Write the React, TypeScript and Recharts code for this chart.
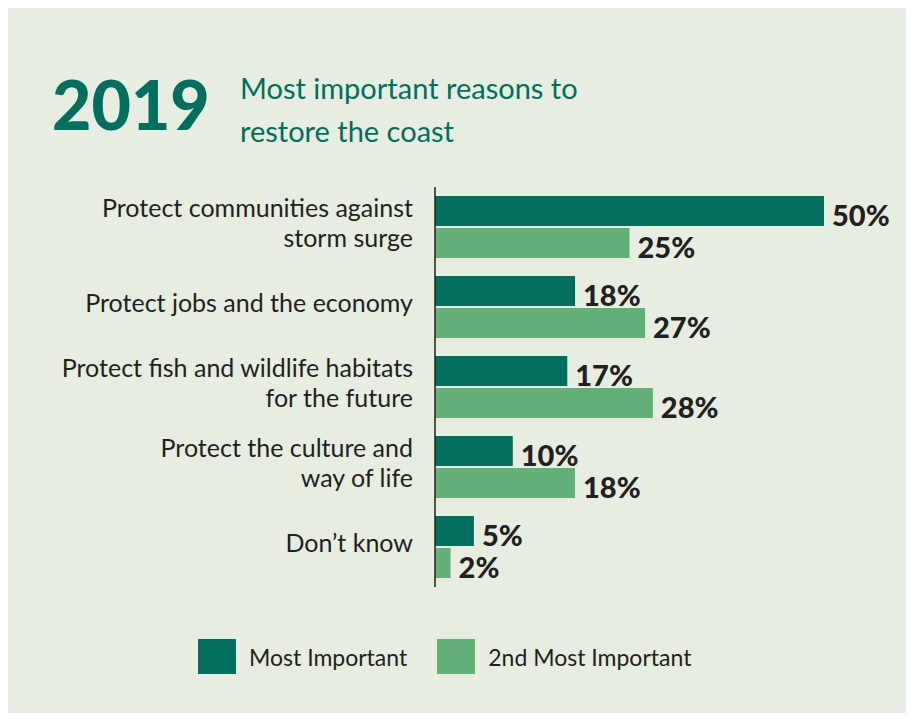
import { Bar, BarChart, LabelList, Legend, XAxis, YAxis } from 'recharts';

const categories = [
  'Protect communities against\nstorm surge',
  'Protect jobs and the economy',
  'Protect fish and wildlife habitats\nfor the future',
  'Protect the culture and\nway of life',
  'Don’t know',
];
const mostImportant = [50, 18, 17, 10, 5];
const secondMostImportant = [25, 27, 28, 18, 2];
const seriesNames = ['Most Important', '2nd Most Important'];

const DARK = '#016e5e';
const LIGHT = '#62af77';
const BG = '#e7ede0';
const INK = '#231f20';
const FONT = 'Lato, "Open Sans", sans-serif';

const chartData = categories.map((name, i) => ({
  name,
  most: mostImportant[i],
  second: secondMostImportant[i],
}));

// multi-line category label, right-aligned against the axis
const CategoryTick = ({ x, y, payload }: any) => {
  const lines = String(payload.value).split('\n');
  const lineH = 29.5;
  const first = y - ((lines.length - 1) * lineH) / 2 + 5;
  return (
    <text textAnchor="end" fontSize={25} fill={INK} fontFamily={FONT}>
      {lines.map((l, i) => (
        <tspan key={i} x={x} y={first + i * lineH}>
          {l}
        </tspan>
      ))}
    </text>
  );
};

const ValueLabel = ({ x, y, width, height, value }: any) => (
  <text
    x={x + width + 8}
    y={y + height / 2 + 3}
    dominantBaseline="central"
    fontSize={29}
    fontWeight={900}
    fill={INK}
    fontFamily={FONT}
  >
    {value}%
  </text>
);

const LegendContent = ({ payload }: any) => {
  const items = [...(payload || [])].sort(
    (a: any, b: any) => seriesNames.indexOf(a.value) - seriesNames.indexOf(b.value),
  );
  return (
    <div style={{ display: 'flex', alignItems: 'center', fontFamily: FONT }}>
      {items.map((p: any) => (
        <div key={p.value} style={{ display: 'flex', alignItems: 'center', marginRight: 30 }}>
          <span style={{ width: 38, height: 35, background: p.color, display: 'inline-block' }} />
          <span style={{ marginLeft: 13, fontSize: 23, color: INK }}>{p.value}</span>
        </div>
      ))}
    </div>
  );
};

export default function App() {
  return (
    <div style={{ position: 'relative', width: 898, height: 705, background: BG }}>
      <svg
        width={898}
        height={705}
        style={{ position: 'absolute', left: 0, top: 0, pointerEvents: 'none' }}
      >
        <text x={44} y={122} fontSize={68} fontWeight={900} fill={DARK} fontFamily={FONT}>
          2019
        </text>
        <text fontSize={29} fill={DARK} fontFamily={FONT}>
          <tspan x={232} y={91}>
            Most important reasons to
          </tspan>
          <tspan x={232} y={133.5}>
            restore the coast
          </tspan>
        </text>
      </svg>
      <BarChart
        width={898}
        height={705}
        data={chartData}
        layout="vertical"
        barGap={2}
        margin={{ top: 179, right: 82, left: 0, bottom: 126 }}
      >
        <XAxis type="number" domain={[0, 50]} hide />
        <YAxis
          type="category"
          dataKey="name"
          width={427}
          tickLine={false}
          tickSize={0}
          tickMargin={22}
          axisLine={{ stroke: INK, strokeWidth: 1.5 }}
          tick={<CategoryTick />}
        />
        <Legend
          layout="horizontal"
          verticalAlign="middle"
          align="center"
          content={<LegendContent />}
          wrapperStyle={{ top: 631, left: 190, width: 'auto' }}
        />
        <Bar dataKey="most" name={seriesNames[0]} fill={DARK} barSize={30} isAnimationActive={false}>
          <LabelList dataKey="most" content={<ValueLabel />} />
        </Bar>
        <Bar
          dataKey="second"
          name={seriesNames[1]}
          fill={LIGHT}
          barSize={30}
          isAnimationActive={false}
        >
          <LabelList dataKey="second" content={<ValueLabel />} />
        </Bar>
      </BarChart>
    </div>
  );
}
